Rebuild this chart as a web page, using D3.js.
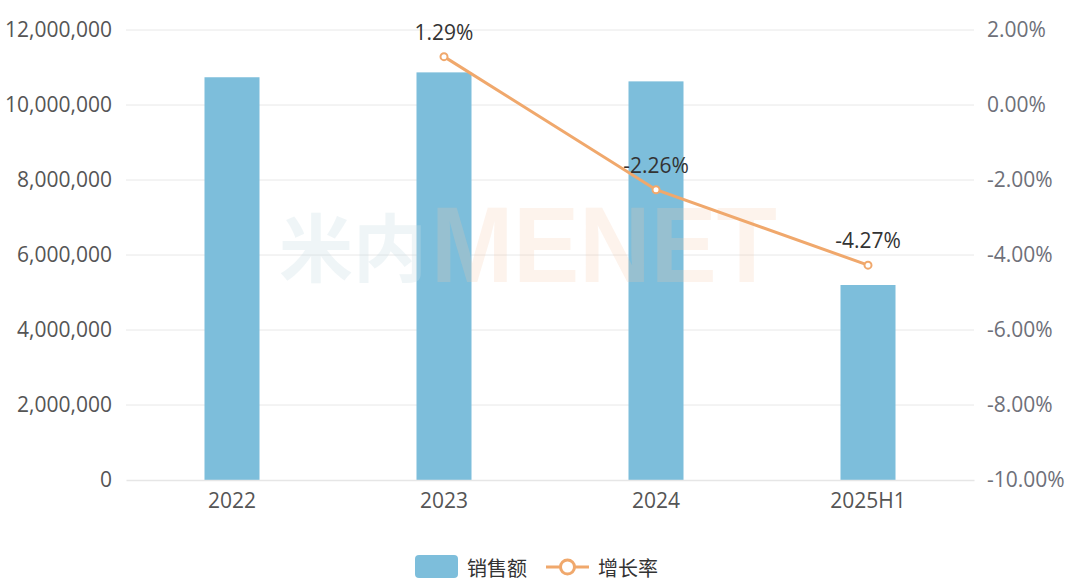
<!DOCTYPE html>
<html><head><meta charset="utf-8">
<script src="https://cdn.jsdelivr.net/npm/d3@7/dist/d3.min.js"></script>
<style>
html,body{margin:0;padding:0;background:#fff;}
svg{display:block;font-family:"Open Sans","Noto Sans","Noto Sans CJK SC",sans-serif;}
</style></head>
<body>
<svg id="chart" width="1080" height="587"></svg>
<script>
const categories = ["2022", "2023", "2024", "2025H1"];
const sales = [10740000, 10870000, 10630000, 5200000];
const growth = [null, 1.29, -2.26, -4.27];
const leftTicks = [0, 2000000, 4000000, 6000000, 8000000, 10000000, 12000000];
const rightTicks = [-10, -8, -6, -4, -2, 0, 2];
const seriesNames = ["销售额", "增长率"];

const svg = d3.select("#chart");
const plotL = 126, plotR = 974, plotT = 30, plotB = 480;
const barColor = "#7dbedb", lineColor = "#f0a86c";
const fs = 21;

const x = d3.scaleBand().domain(categories).range([plotL, plotR]);
const yL = d3.scaleLinear().domain([0, 12000000]).range([plotB, plotT]);
const yR = d3.scaleLinear().domain([-10, 2]).range([plotB, plotT]);

// grid
svg.append("g").selectAll("line").data(leftTicks.filter(d => d > 0)).join("line")
  .attr("x1", plotL).attr("x2", plotR)
  .attr("y1", d => yL(d)).attr("y2", d => yL(d))
  .attr("stroke", "#e8e8e8").attr("stroke-width", 1);

// left axis
const axL = svg.append("g").attr("transform", `translate(${plotL},0)`)
  .call(d3.axisLeft(yL).tickValues(leftTicks).tickSize(0).tickPadding(14).tickFormat(d3.format(",")));
axL.select(".domain").remove();
axL.selectAll("text").attr("font-size", fs).attr("fill", "#555").attr("font-family", "Open Sans");

// right axis
const axR = svg.append("g").attr("transform", `translate(${plotR},0)`)
  .call(d3.axisRight(yR).tickValues(rightTicks).tickSize(0).tickPadding(13).tickFormat(d => d.toFixed(2) + "%"));
axR.select(".domain").remove();
axR.selectAll("text").attr("font-size", fs).attr("fill", "#6e7079").attr("font-family", "Open Sans");

// bars
const barW = 55;
svg.append("g").selectAll("rect").data(categories).join("rect")
  .attr("x", d => x(d) + x.bandwidth() / 2 - barW / 2)
  .attr("width", barW)
  .attr("y", (d, i) => yL(sales[i]))
  .attr("height", (d, i) => yL(0) - yL(sales[i]))
  .attr("fill", barColor);

// x axis
const axX = svg.append("g").attr("transform", `translate(0,${plotB})`)
  .call(d3.axisBottom(x).tickSize(0).tickPadding(13));
axX.select(".domain").attr("stroke", "#e6e6e6").attr("stroke-width", 1.5);
axX.selectAll("text").attr("font-size", fs).attr("fill", "#555").attr("font-family", "Open Sans");

// watermark
svg.append("text").attr("x", 279).attr("y", 276).attr("font-size", 74).attr("font-weight", "bold")
  .attr("font-family", "Noto Sans CJK SC")
  .attr("fill", "#c9dde6").attr("fill-opacity", 0.3).text("米内");
svg.append("text").attr("x", 431).attr("y", 282).attr("font-size", 108).attr("font-weight", "bold")
  .attr("textLength", 346).attr("lengthAdjust", "spacingAndGlyphs")
  .attr("font-family", "Liberation Sans, Arial, sans-serif")
  .attr("fill", "#f7c9a8").attr("fill-opacity", 0.22).text("MENET");

// line
const pts = categories.map((c, i) => ({c, v: growth[i]})).filter(d => d.v !== null);
const line = d3.line().x(d => x(d.c) + x.bandwidth() / 2).y(d => yR(d.v));
svg.append("path").datum(pts).attr("d", line)
  .attr("fill", "none").attr("stroke", lineColor).attr("stroke-width", 3);
svg.append("g").selectAll("circle").data(pts).join("circle")
  .attr("cx", d => x(d.c) + x.bandwidth() / 2).attr("cy", d => yR(d.v))
  .attr("r", 3.5).attr("fill", "#fff").attr("stroke", lineColor).attr("stroke-width", 2);
svg.append("g").selectAll("text").data(pts).join("text")
  .attr("x", d => x(d.c) + x.bandwidth() / 2).attr("y", d => yR(d.v) - 17)
  .attr("text-anchor", "middle").attr("font-size", fs).attr("fill", "#333")
  .text(d => d.v.toFixed(2) + "%");

// legend
const lg = svg.append("g");
lg.append("rect").attr("x", 415).attr("y", 555).attr("width", 43).attr("height", 23).attr("rx", 4).attr("fill", barColor);
lg.append("text").attr("x", 467).attr("y", 567).attr("dominant-baseline", "central")
  .attr("font-size", 20).attr("fill", "#333").attr("font-family", "Noto Sans CJK SC").text(seriesNames[0]);
lg.append("line").attr("x1", 546).attr("x2", 589).attr("y1", 567).attr("y2", 567)
  .attr("stroke", lineColor).attr("stroke-width", 3);
lg.append("circle").attr("cx", 567.5).attr("cy", 567).attr("r", 7).attr("fill", "#fff")
  .attr("stroke", lineColor).attr("stroke-width", 3);
lg.append("text").attr("x", 598).attr("y", 567).attr("dominant-baseline", "central")
  .attr("font-size", 20).attr("fill", "#333").attr("font-family", "Noto Sans CJK SC").text(seriesNames[1]);
</script>
</body></html>
